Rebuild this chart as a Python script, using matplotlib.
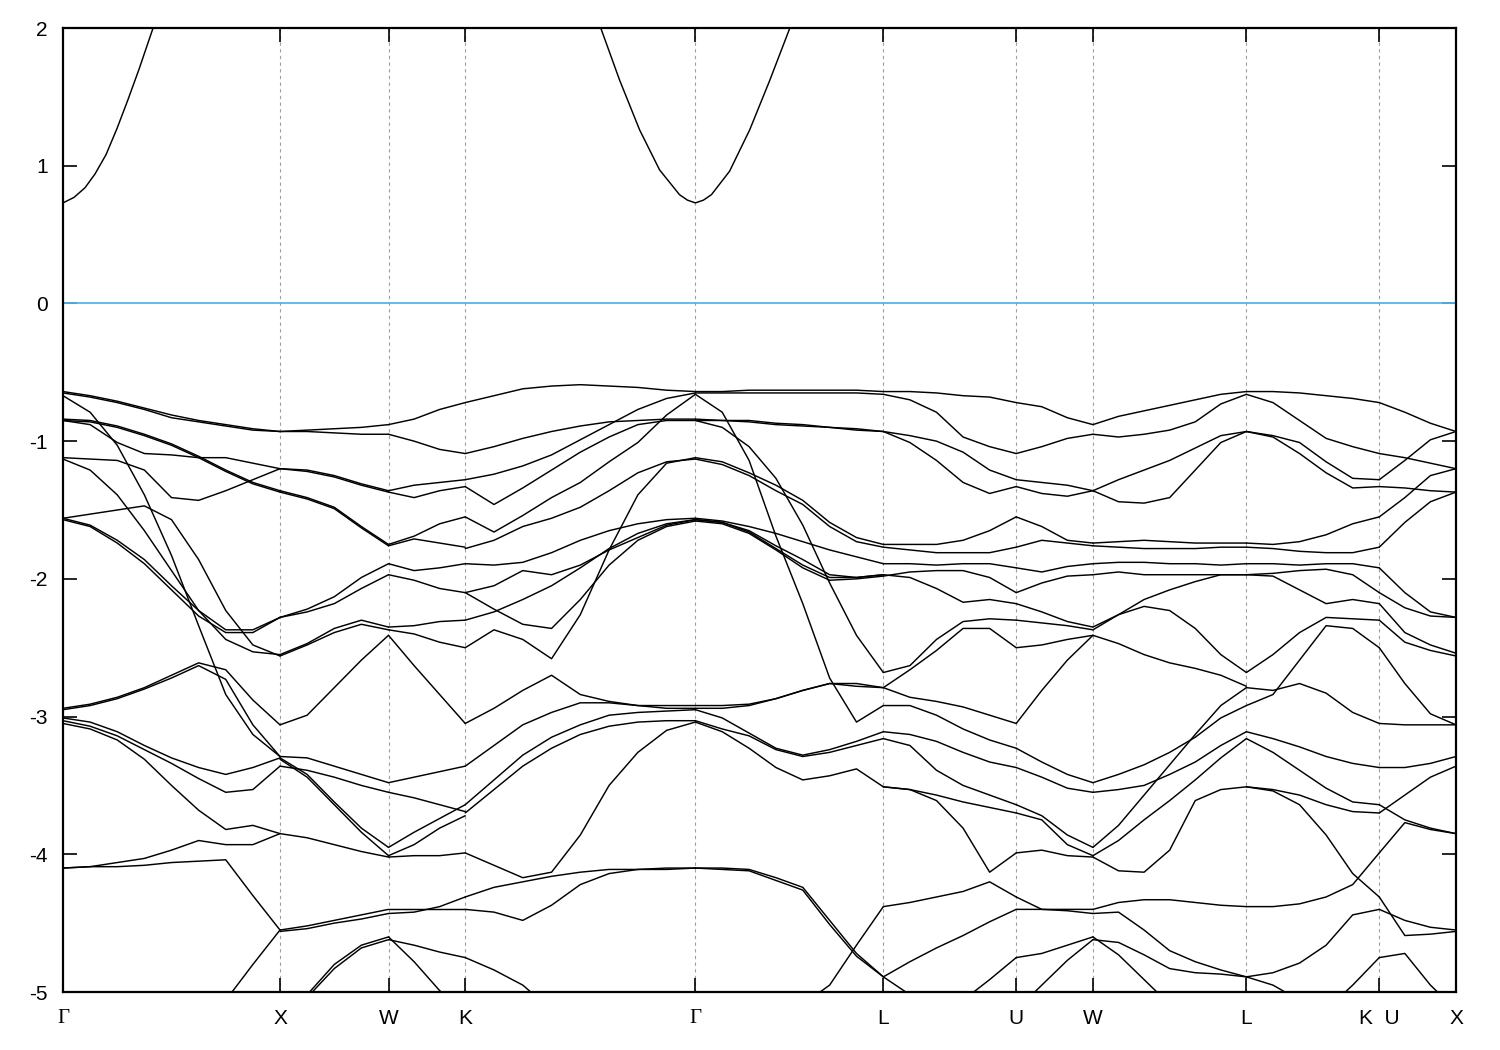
"""Band structure along Gamma-X-W-K-Gamma-L-U-W-L-K|U-X (gnuplot-like look)."""

import numpy as np
import matplotlib

matplotlib.use("Agg")
import matplotlib.pyplot as plt

plt.rcParams["font.family"] = ["Liberation Sans", "DejaVu Sans"]
plt.rcParams["axes.unicode_minus"] = False

# high-symmetry path, segment lengths in units of 2*pi/a
POINT_LABELS = ["Γ", "X", "W", "K", "Γ", "L", "U", "W", "L", "K  U", "X"]
SEG_LENGTHS = [1.0, 0.5, 0.35355, 1.06066, 0.86603, 0.61237, 0.35355, 0.70711, 0.61237, 0.35355]

# valence bands (eV), one row per line, sampled evenly along each segment
GAMMA_X = [
    [-0.64, -0.67, -0.71, -0.76, -0.81, -0.85, -0.88, -0.91, -0.93],
    [-0.65, -0.68, -0.72, -0.77, -0.83, -0.86, -0.89, -0.92, -0.93],
    [-0.67, -0.79, -1.03, -1.39, -1.83, -2.34, -2.84, -3.13, -3.29],
    [-0.84, -0.85, -0.89, -0.95, -1.02, -1.11, -1.21, -1.30, -1.36],
    [-0.85, -0.86, -0.90, -0.96, -1.03, -1.12, -1.22, -1.31, -1.37],
    [-0.85, -0.88, -1.01, -1.09, -1.10, -1.12, -1.12, -1.16, -1.20],
    [-1.12, -1.13, -1.14, -1.21, -1.41, -1.43, -1.36, -1.28, -1.20],
    [-1.13, -1.21, -1.39, -1.65, -1.94, -2.23, -2.44, -2.53, -2.55],
    [-1.56, -1.61, -1.72, -1.86, -2.05, -2.23, -2.37, -2.37, -2.28],
    [-1.57, -1.62, -1.74, -1.89, -2.08, -2.27, -2.39, -2.39, -2.28],
    [-1.56, -1.53, -1.50, -1.47, -1.57, -1.86, -2.23, -2.48, -2.56],
    [-2.94, -2.91, -2.86, -2.79, -2.70, -2.61, -2.66, -2.88, -3.06],
    [-2.95, -2.92, -2.87, -2.80, -2.72, -2.63, -2.73, -3.06, -3.29],
    [-3.01, -3.04, -3.11, -3.21, -3.30, -3.37, -3.42, -3.37, -3.30],
    [-3.03, -3.07, -3.14, -3.24, -3.34, -3.45, -3.55, -3.53, -3.36],
    [-3.05, -3.09, -3.17, -3.31, -3.50, -3.68, -3.82, -3.79, -3.85],
    [-4.10, -4.09, -4.09, -4.08, -4.06, -4.05, -4.04, -4.30, -4.55],
    [-4.10, -4.09, -4.06, -4.03, -3.97, -3.90, -3.93, -3.93, -3.85],
    [-5.13, -5.13, -5.13, -5.13, -5.13, -5.13, -5.06, -4.80, -4.55],
]

X_W = [
    [-0.93, -0.92, -0.91, -0.90, -0.88],
    [-0.93, -0.93, -0.94, -0.95, -0.95],
    [-1.20, -1.21, -1.25, -1.31, -1.36],
    [-1.20, -1.22, -1.26, -1.32, -1.37],
    [-1.36, -1.41, -1.48, -1.62, -1.75],
    [-1.37, -1.42, -1.49, -1.63, -1.76],
    [-2.28, -2.22, -2.13, -1.99, -1.89],
    [-2.28, -2.24, -2.18, -2.07, -1.97],
    [-2.55, -2.47, -2.36, -2.30, -2.35],
    [-2.56, -2.48, -2.39, -2.33, -2.37],
    [-3.06, -2.99, -2.79, -2.59, -2.41],
    [-3.29, -3.30, -3.36, -3.42, -3.48],
    [-3.36, -3.39, -3.44, -3.50, -3.55],
    [-3.30, -3.42, -3.62, -3.81, -3.95],
    [-3.31, -3.44, -3.64, -3.84, -4.01],
    [-3.85, -3.88, -3.93, -3.98, -4.02],
    [-4.55, -4.52, -4.48, -4.44, -4.40],
    [-4.56, -4.54, -4.50, -4.47, -4.43],
    [-5.13, -5.02, -4.80, -4.66, -4.60],
    [-5.14, -5.04, -4.83, -4.68, -4.62],
]

W_K = [
    [-0.88, -0.84, -0.77, -0.72],
    [-0.95, -1.00, -1.06, -1.09],
    [-1.36, -1.32, -1.30, -1.28],
    [-1.37, -1.41, -1.36, -1.33],
    [-1.75, -1.69, -1.60, -1.55],
    [-1.76, -1.71, -1.74, -1.77],
    [-1.89, -1.94, -1.92, -1.89],
    [-1.97, -2.01, -2.07, -2.10],
    [-2.35, -2.34, -2.31, -2.30],
    [-2.37, -2.40, -2.46, -2.50],
    [-2.41, -2.63, -2.84, -3.05],
    [-3.48, -3.44, -3.40, -3.36],
    [-3.55, -3.59, -3.64, -3.69],
    [-3.95, -3.84, -3.74, -3.64],
    [-4.01, -3.93, -3.81, -3.72],
    [-4.02, -4.01, -4.01, -3.99],
    [-4.40, -4.40, -4.40, -4.40],
    [-4.43, -4.42, -4.38, -4.31],
    [-4.60, -4.78, -4.99, -5.13],
    [-4.62, -4.66, -4.71, -4.75],
]

K_GAMMA = [
    [-0.72, -0.67, -0.62, -0.60, -0.59, -0.60, -0.61, -0.63, -0.64],
    [-1.09, -1.04, -0.98, -0.93, -0.89, -0.86, -0.85, -0.84, -0.84],
    [-1.28, -1.24, -1.18, -1.10, -0.99, -0.88, -0.77, -0.69, -0.65],
    [-1.55, -1.66, -1.54, -1.41, -1.30, -1.15, -1.01, -0.81, -0.66],
    [-1.33, -1.46, -1.34, -1.21, -1.08, -0.97, -0.88, -0.85, -0.85],
    [-1.78, -1.72, -1.62, -1.56, -1.48, -1.36, -1.23, -1.15, -1.13],
    [-1.89, -1.90, -1.88, -1.81, -1.72, -1.65, -1.60, -1.57, -1.56],
    [-2.10, -2.05, -1.94, -1.97, -1.90, -1.79, -1.70, -1.61, -1.57],
    [-2.30, -2.24, -2.15, -2.05, -1.92, -1.78, -1.67, -1.60, -1.57],
    [-2.10, -2.22, -2.33, -2.36, -2.15, -1.90, -1.72, -1.62, -1.58],
    [-2.50, -2.37, -2.44, -2.58, -2.26, -1.79, -1.39, -1.16, -1.12],
    [-3.05, -2.94, -2.81, -2.70, -2.84, -2.89, -2.92, -2.92, -2.92],
    [-3.36, -3.21, -3.06, -2.97, -2.90, -2.90, -2.92, -2.94, -2.94],
    [-3.64, -3.46, -3.28, -3.15, -3.06, -2.99, -2.97, -2.96, -2.95],
    [-3.70, -3.53, -3.36, -3.23, -3.13, -3.07, -3.04, -3.03, -3.03],
    [-3.99, -4.08, -4.17, -4.13, -3.86, -3.50, -3.26, -3.10, -3.04],
    [-4.31, -4.24, -4.20, -4.16, -4.13, -4.11, -4.11, -4.10, -4.10],
    [-4.40, -4.42, -4.48, -4.37, -4.22, -4.14, -4.11, -4.11, -4.10],
    [-4.75, -4.84, -4.95, -5.13, -5.13, -5.13, -5.13, -5.13, -5.13],
]

GAMMA_L = [
    [-0.64, -0.64, -0.63, -0.63, -0.63, -0.63, -0.63, -0.64],
    [-0.65, -0.65, -0.65, -0.65, -0.65, -0.65, -0.65, -0.66],
    [-0.66, -0.79, -1.14, -1.69, -2.18, -2.72, -3.04, -2.92],
    [-0.85, -0.90, -1.04, -1.27, -1.61, -2.03, -2.41, -2.68],
    [-0.84, -0.85, -0.85, -0.87, -0.88, -0.90, -0.91, -0.93],
    [-0.85, -0.85, -0.86, -0.88, -0.89, -0.90, -0.92, -0.93],
    [-1.12, -1.15, -1.23, -1.32, -1.43, -1.59, -1.70, -1.75],
    [-1.13, -1.17, -1.25, -1.36, -1.46, -1.62, -1.73, -1.77],
    [-1.56, -1.58, -1.62, -1.67, -1.73, -1.79, -1.84, -1.89],
    [-1.57, -1.59, -1.65, -1.76, -1.86, -1.97, -1.99, -1.97],
    [-1.57, -1.59, -1.66, -1.78, -1.90, -1.99, -1.99, -1.97],
    [-1.58, -1.60, -1.67, -1.79, -1.92, -2.01, -2.00, -1.98],
    [-2.92, -2.92, -2.91, -2.87, -2.81, -2.76, -2.76, -2.79],
    [-2.94, -2.94, -2.92, -2.87, -2.81, -2.76, -2.78, -2.79],
    [-2.95, -3.01, -3.12, -3.23, -3.28, -3.24, -3.18, -3.11],
    [-3.03, -3.09, -3.14, -3.24, -3.29, -3.26, -3.21, -3.16],
    [-3.04, -3.11, -3.23, -3.37, -3.46, -3.43, -3.38, -3.51],
    [-4.10, -4.10, -4.11, -4.17, -4.24, -4.48, -4.72, -4.89],
    [-4.10, -4.11, -4.12, -4.19, -4.26, -4.51, -4.74, -4.89],
    [-5.13, -5.13, -5.13, -5.13, -5.09, -4.95, -4.66, -4.38],
]

L_U = [
    [-0.64, -0.64, -0.65, -0.67, -0.68, -0.72],
    [-0.66, -0.70, -0.79, -0.97, -1.04, -1.09],
    [-0.93, -0.96, -1.00, -1.08, -1.21, -1.28],
    [-0.93, -1.01, -1.14, -1.30, -1.38, -1.33],
    [-1.75, -1.75, -1.75, -1.72, -1.65, -1.55],
    [-1.77, -1.79, -1.81, -1.81, -1.81, -1.77],
    [-1.89, -1.89, -1.90, -1.89, -1.89, -1.92],
    [-1.97, -1.99, -2.07, -2.17, -2.15, -2.18],
    [-1.98, -1.95, -1.94, -1.94, -1.99, -2.10],
    [-2.68, -2.63, -2.44, -2.31, -2.29, -2.30],
    [-2.79, -2.66, -2.52, -2.36, -2.36, -2.50],
    [-2.79, -2.86, -2.89, -2.93, -2.99, -3.05],
    [-2.92, -2.92, -2.99, -3.09, -3.17, -3.23],
    [-3.11, -3.13, -3.18, -3.26, -3.33, -3.37],
    [-3.16, -3.21, -3.39, -3.50, -3.57, -3.64],
    [-3.51, -3.53, -3.57, -3.62, -3.66, -3.70],
    [-3.51, -3.53, -3.61, -3.81, -4.13, -3.99],
    [-4.38, -4.35, -4.31, -4.27, -4.20, -4.31],
    [-4.89, -4.78, -4.68, -4.59, -4.49, -4.40],
    [-4.89, -5.02, -5.17, -5.20, -5.20, -5.20],
    [-5.20, -5.20, -5.20, -5.06, -4.91, -4.75],
]

U_W = [
    [-0.72, -0.75, -0.83, -0.88],
    [-1.09, -1.04, -0.98, -0.95],
    [-1.28, -1.30, -1.32, -1.36],
    [-1.33, -1.38, -1.40, -1.36],
    [-1.55, -1.62, -1.72, -1.74],
    [-1.77, -1.72, -1.74, -1.76],
    [-1.92, -1.95, -1.91, -1.89],
    [-2.10, -2.03, -1.98, -1.97],
    [-2.18, -2.24, -2.31, -2.35],
    [-2.30, -2.32, -2.34, -2.37],
    [-2.50, -2.48, -2.44, -2.41],
    [-3.05, -2.81, -2.59, -2.41],
    [-3.23, -3.33, -3.42, -3.48],
    [-3.37, -3.44, -3.52, -3.55],
    [-3.64, -3.72, -3.86, -3.95],
    [-3.70, -3.75, -3.93, -4.01],
    [-3.99, -3.97, -4.01, -4.02],
    [-4.31, -4.40, -4.40, -4.40],
    [-4.40, -4.40, -4.41, -4.43],
    [-4.75, -4.72, -4.66, -4.60],
    [-5.13, -4.95, -4.77, -4.62],
]

W_L = [
    [-0.88, -0.82, -0.78, -0.74, -0.70, -0.66, -0.64],
    [-0.95, -0.97, -0.95, -0.92, -0.86, -0.73, -0.66],
    [-1.36, -1.28, -1.21, -1.14, -1.05, -0.96, -0.93],
    [-1.36, -1.44, -1.45, -1.41, -1.21, -1.01, -0.93],
    [-1.74, -1.73, -1.72, -1.73, -1.74, -1.74, -1.74],
    [-1.76, -1.77, -1.78, -1.78, -1.78, -1.77, -1.77],
    [-1.89, -1.88, -1.88, -1.89, -1.89, -1.90, -1.89],
    [-1.97, -1.95, -1.97, -1.97, -1.97, -1.97, -1.97],
    [-2.35, -2.26, -2.15, -2.08, -2.02, -1.97, -1.97],
    [-2.37, -2.26, -2.20, -2.23, -2.36, -2.55, -2.68],
    [-2.41, -2.47, -2.55, -2.61, -2.65, -2.70, -2.78],
    [-3.48, -3.42, -3.35, -3.26, -3.15, -3.01, -2.92],
    [-3.55, -3.53, -3.50, -3.42, -3.33, -3.21, -3.11],
    [-3.95, -3.79, -3.57, -3.35, -3.13, -2.92, -2.79],
    [-4.01, -3.90, -3.75, -3.61, -3.46, -3.30, -3.16],
    [-4.02, -4.12, -4.13, -3.97, -3.61, -3.53, -3.51],
    [-4.40, -4.35, -4.33, -4.33, -4.35, -4.37, -4.38],
    [-4.43, -4.42, -4.55, -4.70, -4.78, -4.84, -4.89],
    [-4.60, -4.73, -4.91, -5.09, -5.13, -5.13, -5.13],
    [-4.62, -4.64, -4.73, -4.83, -4.86, -4.87, -4.89],
]

L_K = [
    [-0.64, -0.64, -0.65, -0.67, -0.69, -0.72],
    [-0.66, -0.72, -0.85, -0.98, -1.04, -1.09],
    [-0.93, -0.96, -1.01, -1.15, -1.27, -1.28],
    [-0.93, -0.97, -1.09, -1.23, -1.34, -1.33],
    [-1.74, -1.75, -1.73, -1.68, -1.60, -1.55],
    [-1.77, -1.78, -1.80, -1.81, -1.81, -1.77],
    [-1.89, -1.89, -1.90, -1.89, -1.89, -1.92],
    [-1.97, -1.98, -2.08, -2.18, -2.15, -2.18],
    [-1.97, -1.96, -1.94, -1.93, -1.97, -2.10],
    [-2.68, -2.55, -2.39, -2.28, -2.29, -2.30],
    [-2.92, -2.84, -2.59, -2.34, -2.36, -2.50],
    [-2.79, -2.81, -2.76, -2.83, -2.97, -3.05],
    [-3.11, -3.16, -3.22, -3.29, -3.34, -3.37],
    [-3.16, -3.26, -3.39, -3.52, -3.62, -3.64],
    [-3.51, -3.53, -3.57, -3.64, -3.69, -3.70],
    [-3.51, -3.54, -3.64, -3.86, -4.14, -4.31],
    [-4.38, -4.38, -4.36, -4.31, -4.22, -3.99],
    [-4.89, -4.86, -4.79, -4.66, -4.44, -4.40],
    [-4.89, -4.95, -5.06, -5.13, -4.95, -4.75],
]

U_X = [
    [-0.72, -0.79, -0.87, -0.93],
    [-1.09, -1.12, -1.16, -1.20],
    [-1.28, -1.14, -0.99, -0.93],
    [-1.33, -1.34, -1.36, -1.37],
    [-1.55, -1.41, -1.25, -1.20],
    [-1.77, -1.59, -1.44, -1.37],
    [-1.92, -2.10, -2.24, -2.28],
    [-2.10, -2.21, -2.27, -2.28],
    [-2.18, -2.39, -2.48, -2.54],
    [-2.30, -2.46, -2.52, -2.56],
    [-2.50, -2.76, -2.98, -3.06],
    [-3.05, -3.06, -3.06, -3.06],
    [-3.37, -3.37, -3.34, -3.29],
    [-3.64, -3.75, -3.81, -3.85],
    [-3.70, -3.57, -3.44, -3.36],
    [-3.99, -3.77, -3.82, -3.85],
    [-4.31, -4.59, -4.58, -4.56],
    [-4.40, -4.48, -4.53, -4.55],
    [-4.75, -4.72, -4.95, -5.13],
]

# conduction band near the two Gamma points (k in 2*pi/a, E in eV)
CB_LEFT_K = [0.0, 0.0507, 0.1014, 0.1475, 0.1982, 0.2488, 0.2995, 0.3502, 0.4194]
CB_LEFT_E = [0.73, 0.77, 0.84, 0.94, 1.08, 1.27, 1.48, 1.70, 2.02]
CB_MID_K = [2.4781, 2.5653, 2.6572, 2.7490, 2.8408, 2.8776, 2.9142,
            2.9512, 2.9883, 3.0717, 3.1643, 3.2569, 3.3495]
CB_MID_E = [2.0, 1.62, 1.26, 0.97, 0.79, 0.75, 0.73, 0.75, 0.79, 0.96, 1.26, 1.62, 2.0]

SEGMENTS = [GAMMA_X, X_W, W_K, K_GAMMA, GAMMA_L, L_U, U_W, W_L, L_K, U_X]

LINE_KW = dict(color="black", lw=1.05, solid_joinstyle="round", solid_capstyle="round")


def main() -> None:
    k_nodes = np.concatenate([[0.0], np.cumsum(SEG_LENGTHS)])

    fig = plt.figure(figsize=(15, 10.5), dpi=100)
    ax = fig.add_axes([63 / 1500, 58 / 1050, 1393 / 1500, 964 / 1050])

    for k in k_nodes[1:-1]:
        ax.axvline(k, color="#a0a0a0", lw=0.8, ls=(0, (3, 3)), zorder=1)

    ax.axhline(0.0, color="#56b4e9", lw=1.3, zorder=2)

    for idx, table in enumerate(SEGMENTS):
        for row in table:
            kk = np.linspace(k_nodes[idx], k_nodes[idx + 1], len(row))
            ax.plot(kk, row, zorder=3, **LINE_KW)

    ax.plot(CB_LEFT_K, CB_LEFT_E, zorder=3, **LINE_KW)
    ax.plot(CB_MID_K, CB_MID_E, zorder=3, **LINE_KW)

    ax.set_xlim(k_nodes[0], k_nodes[-1])
    ax.set_ylim(-5, 2)
    ax.set_yticks(range(-5, 3))
    ax.set_xticks(k_nodes)
    ax.set_xticklabels(POINT_LABELS)
    for lab, text in zip(ax.get_xticklabels(), POINT_LABELS):
        if text == "Γ":
            lab.set_family(["Liberation Serif", "DejaVu Serif"])

    ax.tick_params(axis="both", direction="in", length=10, width=1.2,
                   top=True, right=True, labelsize=15)
    ax.tick_params(axis="y", pad=11)
    ax.tick_params(axis="x", pad=12)
    for sp in ax.spines.values():
        sp.set_linewidth(1.6)

    fig.savefig("out.png", dpi=100)
    plt.close(fig)


if __name__ == "__main__":
    main()
